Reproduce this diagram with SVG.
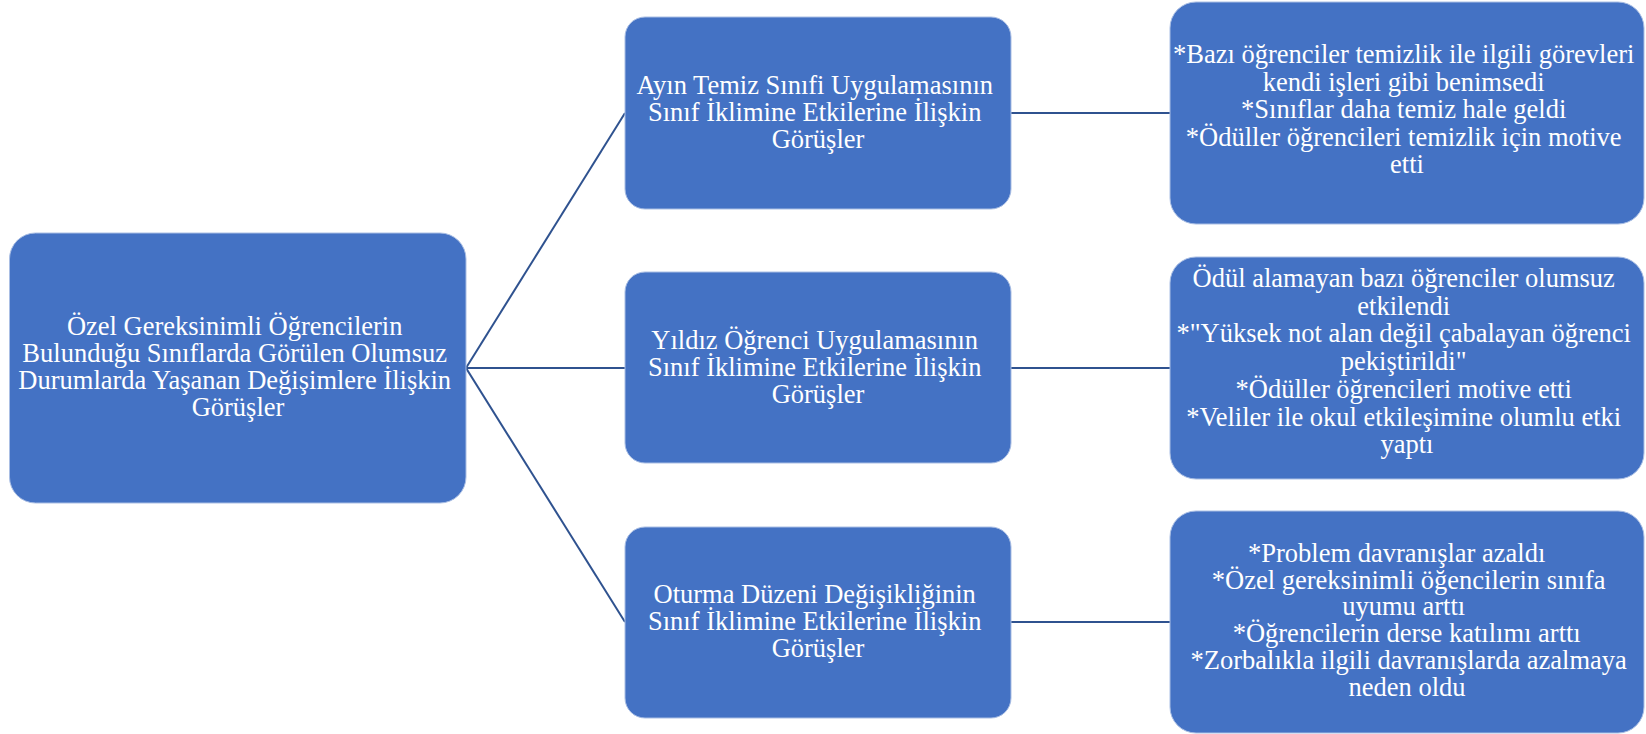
<svg xmlns="http://www.w3.org/2000/svg" width="1646" height="734" viewBox="0 0 1646 734">
  <style>
    .box { fill: #4472C4; stroke: #A9BEE4; stroke-width: 1; }
    .lbl { font-family: "Liberation Serif", "Times New Roman", serif; font-size: 26.5px; fill: #FFFFFF; text-anchor: middle; }
    .link { stroke: #2F528F; stroke-width: 2; fill: none; }
  </style>
  <rect width="1646" height="734" fill="#FFFFFF"/>

  <!-- connectors -->
  <g id="connectors">
    <line class="link" x1="466" y1="368" x2="625" y2="113"/>
    <line class="link" x1="466" y1="368" x2="625" y2="368"/>
    <line class="link" x1="466" y1="368" x2="625" y2="622"/>
    <line class="link" x1="1011" y1="113" x2="1170" y2="113"/>
    <line class="link" x1="1011" y1="368" x2="1170" y2="368"/>
    <line class="link" x1="1011" y1="622" x2="1170" y2="622"/>
  </g>

  <!-- root topic -->
  <g id="root">
    <rect class="box" x="9.5" y="233" width="456.5" height="270" rx="26"/>
    <text class="lbl">
      <tspan x="238" y="335">Özel Gereksinimli Öğrencilerin</tspan>
      <tspan x="238" y="362">Bulunduğu Sınıflarda Görülen Olumsuz</tspan>
      <tspan x="238" y="389">Durumlarda Yaşanan Değişimlere İlişkin</tspan>
      <tspan x="238" y="416">Görüşler</tspan>
    </text>
  </g>

  <!-- practice: clean class of the month -->
  <g id="practice-clean">
    <rect class="box" x="625" y="17" width="386" height="192" rx="20"/>
    <text class="lbl">
      <tspan x="818" y="94">Ayın Temiz Sınıfi Uygulamasının</tspan>
      <tspan x="818" y="121">Sınıf İklimine Etkilerine İlişkin</tspan>
      <tspan x="818" y="148">Görüşler</tspan>
    </text>
  </g>

  <!-- practice: star student -->
  <g id="practice-star">
    <rect class="box" x="625" y="272" width="386" height="191" rx="20"/>
    <text class="lbl">
      <tspan x="818" y="349">Yıldız Öğrenci Uygulamasının</tspan>
      <tspan x="818" y="376">Sınıf İklimine Etkilerine İlişkin</tspan>
      <tspan x="818" y="403">Görüşler</tspan>
    </text>
  </g>

  <!-- practice: seating arrangement -->
  <g id="practice-seating">
    <rect class="box" x="625" y="527" width="386" height="191" rx="20"/>
    <text class="lbl">
      <tspan x="818" y="603">Oturma Düzeni Değişikliğinin</tspan>
      <tspan x="818" y="630">Sınıf İklimine Etkilerine İlişkin</tspan>
      <tspan x="818" y="657">Görüşler</tspan>
    </text>
  </g>

  <!-- outcomes: clean class -->
  <g id="outcomes-clean">
    <rect class="box" x="1170" y="2" width="474" height="222" rx="26"/>
    <text class="lbl">
      <tspan x="1407" y="63">*Bazı öğrenciler temizlik ile ilgili görevleri</tspan>
      <tspan x="1407" y="90.5">kendi işleri gibi benimsedi</tspan>
      <tspan x="1407" y="118">*Sınıflar daha temiz hale geldi</tspan>
      <tspan x="1407" y="145.5">*Ödüller öğrencileri temizlik için motive</tspan>
      <tspan x="1407" y="173">etti</tspan>
    </text>
  </g>

  <!-- outcomes: star student -->
  <g id="outcomes-star">
    <rect class="box" x="1170" y="257" width="474" height="222" rx="26"/>
    <text class="lbl">
      <tspan x="1407" y="287">Ödül alamayan bazı öğrenciler olumsuz</tspan>
      <tspan x="1407" y="314.7">etkilendi</tspan>
      <tspan x="1407" y="342.4">*"Yüksek not alan değil çabalayan öğrenci</tspan>
      <tspan x="1407" y="370.1">pekiştirildi"</tspan>
      <tspan x="1407" y="397.8">*Ödüller öğrencileri motive etti</tspan>
      <tspan x="1407" y="425.5">*Veliler ile okul etkileşimine olumlu etki</tspan>
      <tspan x="1407" y="453.2">yaptı</tspan>
    </text>
  </g>

  <!-- outcomes: seating arrangement -->
  <g id="outcomes-seating">
    <rect class="box" x="1170" y="511" width="474" height="222" rx="26"/>
    <text class="lbl">
      <tspan x="1400" y="562">*Problem davranışlar azaldı</tspan>
      <tspan x="1412" y="588.7">*Özel gereksinimli öğencilerin sınıfa</tspan>
      <tspan x="1407" y="615.4">uyumu arttı</tspan>
      <tspan x="1410" y="642.1">*Öğrencilerin derse katılımı arttı</tspan>
      <tspan x="1412" y="668.8">*Zorbalıkla ilgili davranışlarda azalmaya</tspan>
      <tspan x="1407" y="695.5">neden oldu</tspan>
    </text>
  </g>
</svg>
